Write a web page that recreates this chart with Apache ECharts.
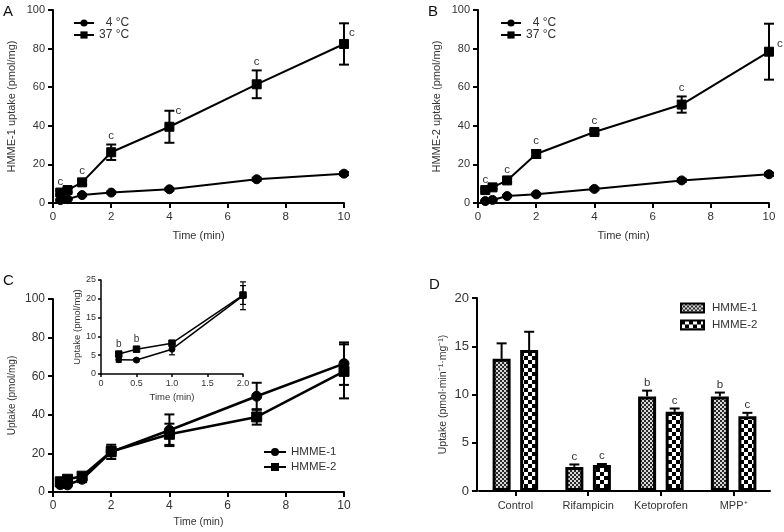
<!DOCTYPE html>
<html><head><meta charset="utf-8">
<script src="https://cdn.jsdelivr.net/npm/echarts@6/dist/echarts.min.js"></script>
<style>html,body{margin:0;padding:0;background:#fff;}.p{position:absolute;left:0;top:0;width:784px;height:532px;}</style>
</head><body>
<div id="cA" class="p"></div><div id="cB" class="p"></div><div id="cC" class="p"></div><div id="cD" class="p"></div>
<script>
// ---------- data ----------
const timeMin = [0.25, 0.5, 1, 2, 4, 7, 10];
// Panel A (HMME-1)
const a4C = [1.5, 2.0, 4.1, 5.4, 7.1, 12.3, 15.2];
const a4CErr = [0.3, 0.3, 0.5, 0.5, 0.6, 0.8, 0.8];
const a37C = [5.4, 6.7, 10.7, 26.3, 39.5, 61.5, 82.4];
const a37CErr = [1.0, 1.0, 1.2, 4.0, 8.3, 7.2, 10.7];
const aLetters = ['c', '', 'c', 'c', 'c', 'c', 'c'];
// Panel B (HMME-2)
const b4C = [1.0, 1.6, 3.6, 4.5, 7.3, 11.7, 14.9];
const b4CErr = [0.3, 0.3, 0.4, 0.5, 0.6, 0.8, 0.8];
const b37C = [6.7, 8.1, 11.7, 25.4, 36.8, 51.0, 78.4];
const b37CErr = [0.8, 0.8, 1.0, 2.0, 1.0, 4.2, 14.5];
const bLetters = ['c', '', 'c', 'c', 'c', 'c', 'c'];
// Panel C
const cH1 = [3.8, 3.7, 6.6, 20.8, 32.0, 49.6, 66.5];
const cH1Err = [0.7, 0.4, 1.5, 3.7, 8.2, 7.0, 11.0];
const cH2 = [5.3, 6.6, 8.2, 21.0, 29.9, 38.9, 62.5];
const cH2Err = [0.6, 0.5, 0.6, 2.5, 5.5, 4.0, 14.0];
const insetLetters = ['b', 'b', '', ''];
// Panel D
const dCats = ['Control', 'Rifampicin', 'Ketoprofen', 'MPP\u207A'];
const dH1 = [13.7, 2.5, 9.8, 9.8];
const dH1Err = [1.6, 0.25, 0.6, 0.4];
const dH2 = [14.6, 2.7, 8.2, 7.75];
const dH2Err = [1.9, 0.1, 0.35, 0.35];
const dH1Letters = ['', 'c', 'b', 'b'];
const dH2Letters = ['', 'c', 'c', 'c'];

// ---------- helpers ----------
const FONT = '"Liberation Sans", Arial, sans-serif';
const TXT = '#333';

function valAxis(o) {
  return {
    type: 'value', gridIndex: o.gi || 0, min: o.min, max: o.max, interval: o.interval,
    offset: o.offset || 0,
    axisLine: { show: true, onZero: false, lineStyle: { color: '#000', width: o.lw || 2 } },
    axisTick: { show: true, length: o.tick || 5, lineStyle: { color: '#000', width: o.lw || 2 } },
    axisLabel: { color: TXT, fontSize: o.fs || 11, fontFamily: FONT, margin: o.margin || 8, formatter: o.fmt },
    splitLine: { show: false },
    name: o.name, nameLocation: 'middle', nameGap: o.nameGap,
    nameTextStyle: { color: TXT, fontSize: o.nfs || 11, fontFamily: FONT }
  };
}

function errBars(gi, xs, vals, errs, o) {
  return {
    type: 'custom', xAxisIndex: gi, yAxisIndex: gi, clip: false, z: 5, silent: true, animation: false,
    data: xs.map((x, i) => [x, vals[i], errs[i]]),
    renderItem(params, api) {
      const i = params.dataIndex;
      const x = api.value(0), v = api.value(1), e = api.value(2);
      const pv = api.coord([x, v]);
      const pt = api.coord([x, v + e]);
      const pb = api.coord([x, o.up ? v : v - e]);
      const cx = pv[0] + (o.dx || 0);
      const st = { stroke: '#000', lineWidth: o.lw };
      const ch = [];
      if (e > 0) {
        ch.push({ type: 'line', shape: { x1: cx, y1: pt[1], x2: cx, y2: pb[1] }, style: st });
        ch.push({ type: 'line', shape: { x1: cx - o.cap, y1: pt[1], x2: cx + o.cap, y2: pt[1] }, style: st });
        if (!o.up) ch.push({ type: 'line', shape: { x1: cx - o.cap, y1: pb[1], x2: cx + o.cap, y2: pb[1] }, style: st });
      }
      const L = o.letters && o.letters[i];
      if (L) {
        const pl = (o.place && o.place[i]) || {};
        const anc = pl.at === 'value' ? pv : pt;
        const ts = { text: L, fill: TXT, fontSize: o.fs || 11, fontFamily: FONT };
        if (pl.side === 'right') {
          Object.assign(ts, { x: cx + (pl.dx || 6), y: anc[1] + (pl.dy || 0), align: 'left', verticalAlign: 'middle' });
        } else {
          Object.assign(ts, { x: cx, y: anc[1] - (o.gap || 3), align: 'center', verticalAlign: 'bottom' });
        }
        ch.push({ type: 'text', style: ts });
      }
      return { type: 'group', children: ch };
    }
  };
}

function lineSeries(name, gi, xs, vals, symbol, size, lw) {
  return {
    type: 'line', name, xAxisIndex: gi, yAxisIndex: gi, animation: false, z: 4,
    data: xs.map((x, i) => [x, vals[i]]),
    symbol, symbolSize: size, showSymbol: true,
    lineStyle: { color: '#000', width: lw }, itemStyle: { color: '#000', borderColor: '#000' }
  };
}

function letter(t, left, top) {
  return { type: 'text', left, top, style: { text: t, fontSize: 15, fill: '#111', fontFamily: FONT } };
}

function pattern(cell, c1, c2) {
  const cv = document.createElement('canvas');
  cv.width = cv.height = cell * 2;
  const g = cv.getContext('2d');
  g.fillStyle = c2; g.fillRect(0, 0, cell * 2, cell * 2);
  g.fillStyle = c1; g.fillRect(0, 0, cell, cell); g.fillRect(cell, cell, cell, cell);
  return cv;
}

const tempLegendFmt = n => (n === '4 \u00B0C' ? '\u2007' + n : n);

// ---------- Panel A / B ----------
function tempPanel(id, gridPos, yName, low, lowErr, high, highErr, letters, place, legendLeft, tag, tagLeft) {
  const chart = echarts.init(document.getElementById(id), null, { renderer: 'canvas' });
  chart.setOption({
    animation: false,
    graphic: [letter(tag, tagLeft, 4)],
    grid: [Object.assign({ outerBoundsMode: 'none', containLabel: false }, gridPos)],
    legend: {
      data: ['4 \u00B0C', '37 \u00B0C'], orient: 'vertical', left: legendLeft, top: 17, padding: 0,
      itemWidth: 20, itemHeight: 9, itemGap: 0, formatter: tempLegendFmt,
      textStyle: { fontSize: 12, color: TXT, fontFamily: FONT }
    },
    xAxis: [valAxis({ min: 0, max: 10, interval: 2, fs: 11.5, name: 'Time (min)', nameGap: 27 })],
    yAxis: [valAxis({ min: 0, max: 100, interval: 20, fs: 11, name: yName, nameGap: 36 })],
    series: [
      lineSeries('4 \u00B0C', 0, timeMin, low, 'circle', 9, 2),
      lineSeries('37 \u00B0C', 0, timeMin, high, 'rect', 9, 2),
      errBars(0, timeMin, low, lowErr, { lw: 2, cap: 5 }),
      errBars(0, timeMin, high, highErr, { lw: 2, cap: 5, letters, place, gap: 3, fs: 11.5 })
    ]
  });
}

tempPanel('cA', { left: 53, right: 440, top: 10, bottom: 329 }, 'HMME-1 uptake (pmol/mg)',
  a4C, a4CErr, a37C, a37CErr, aLetters,
  { 4: { side: 'right', dx: 6 }, 6: { side: 'right', at: 'value', dx: 5, dy: -11 } }, 73, 'A', 3);
tempPanel('cB', { left: 478, right: 15, top: 10, bottom: 329 }, 'HMME-2 uptake (pmol/mg)',
  b4C, b4CErr, b37C, b37CErr, bLetters,
  { 6: { side: 'right', at: 'value', dx: 8, dy: -8 } }, 500, 'B', 428);

// ---------- Panel C ----------
(function () {
  const chart = echarts.init(document.getElementById('cC'), null, { renderer: 'canvas' });
  const tI = timeMin.slice(0, 4);
  chart.setOption({
    animation: false,
    graphic: [letter('C', 3, 273)],
    grid: [
      { left: 53, right: 440, top: 299, bottom: 40, outerBoundsMode: 'none', containLabel: false },
      { left: 101, right: 541, top: 280, bottom: 158, outerBoundsMode: 'none', containLabel: false }
    ],
    legend: {
      data: ['HMME-1', 'HMME-2'], orient: 'vertical', left: 263, top: 446, padding: 0,
      itemWidth: 22, itemHeight: 10, itemGap: 3,
      textStyle: { fontSize: 11.5, color: TXT, fontFamily: FONT }
    },
    xAxis: [
      valAxis({ gi: 0, min: 0, max: 10, interval: 2, fs: 12, name: 'Time (min)', nameGap: 25, nfs: 10.5 }),
      valAxis({ gi: 1, min: 0, max: 2, interval: 0.5, fs: 9, lw: 1.5, tick: 3, margin: 5,
        fmt: v => (v === 0 ? '0' : v.toFixed(1)), name: 'Time (min)', nameGap: 18, nfs: 9.5 })
    ],
    yAxis: [
      valAxis({ gi: 0, min: 0, max: 100, interval: 20, fs: 12, name: 'Uptake (pmol/mg)', nameGap: 36, nfs: 10 }),
      valAxis({ gi: 1, min: 0, max: 25, interval: 5, fs: 9, lw: 1.5, tick: 3, margin: 5,
        name: 'Uptake (pmol/mg)', nameGap: 17, nfs: 9.5 })
    ],
    series: [
      lineSeries('HMME-1', 0, timeMin, cH1, 'circle', 10, 2.5),
      lineSeries('HMME-2', 0, timeMin, cH2, 'rect', 10, 2.5),
      errBars(0, timeMin, cH1, cH1Err, { lw: 2, cap: 5 }),
      errBars(0, timeMin, cH2, cH2Err, { lw: 2, cap: 5 }),
      lineSeries('HMME-1', 1, tI, cH1.slice(0, 4), 'circle', 6, 1.5),
      lineSeries('HMME-2', 1, tI, cH2.slice(0, 4), 'rect', 6.5, 1.5),
      errBars(1, tI, cH1.slice(0, 4), cH1Err.slice(0, 4), { lw: 1.2, cap: 3 }),
      errBars(1, tI, cH2.slice(0, 4), cH2Err.slice(0, 4), { lw: 1.2, cap: 3, letters: insetLetters, gap: 3, fs: 10 })
    ]
  });
})();

// ---------- Panel D ----------
(function () {
  const chart = echarts.init(document.getElementById('cD'), null, { renderer: 'canvas' });
  const p1 = { image: pattern(2, '#2a2a2a', '#d8d8d8'), repeat: 'repeat' };
  const p2 = { image: pattern(4, '#000', '#fff'), repeat: 'repeat' };
  const idx = dCats.map((_, i) => i);
  const bw = 18, gapPct = 53;
  const off = (bw + bw * gapPct / 100) / 2;
  chart.setOption({
    animation: false,
    graphic: [letter('D', 429, 277)],
    grid: [{ left: 479, right: 14, top: 298, bottom: 41, outerBoundsMode: 'none', containLabel: false }],
    legend: {
      data: ['HMME-1', 'HMME-2'], orient: 'vertical', left: 680, top: 302, padding: 0,
      itemWidth: 23, itemHeight: 9, itemGap: 5, icon: 'rect',
      textStyle: { fontSize: 11.5, color: TXT, fontFamily: FONT, padding: [0, 0, 0, 3] }
    },
    xAxis: [{
      type: 'category', data: dCats,
      axisLine: { show: true, lineStyle: { color: '#000', width: 2 } },
      axisTick: { show: true, alignWithLabel: true, length: 5, lineStyle: { color: '#000', width: 2 } },
      axisLabel: { color: TXT, fontSize: 11, fontFamily: FONT, margin: 9 }
    }],
    yAxis: [valAxis({ min: 0, max: 20, interval: 5, fs: 13, offset: 2, name: 'Uptake (pmol\u00B7min\u207B\u00B9\u00B7mg\u207B\u00B9)', nameGap: 28, nfs: 10.5 })],
    series: [
      { type: 'bar', name: 'HMME-1', data: dH1, barWidth: bw, barGap: gapPct + '%', animation: false,
        itemStyle: { color: p1, borderColor: '#000', borderWidth: 3 } },
      { type: 'bar', name: 'HMME-2', data: dH2, barWidth: bw, animation: false,
        itemStyle: { color: p2, borderColor: '#000', borderWidth: 3 } },
      errBars(0, idx, dH1, dH1Err, { lw: 2, cap: 5, up: true, dx: -off, letters: dH1Letters, gap: 2, fs: 11.5 }),
      errBars(0, idx, dH2, dH2Err, { lw: 2, cap: 5, up: true, dx: off, letters: dH2Letters, gap: 2, fs: 11.5 })
    ]
  });
})();
</script>
</body></html>
